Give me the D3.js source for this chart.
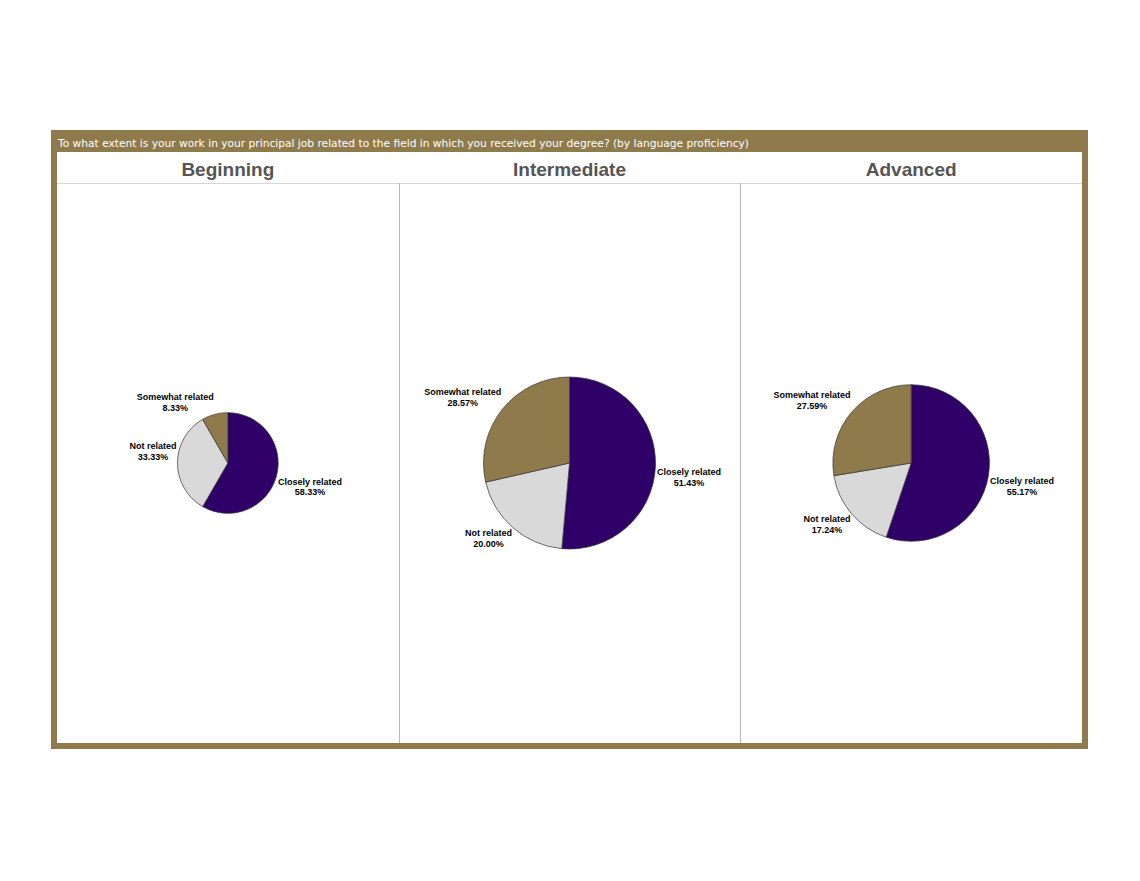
<!DOCTYPE html>
<html>
<head>
<meta charset="utf-8">
<script src="https://cdn.jsdelivr.net/npm/d3@7"></script>
<style>
  body { margin: 0; background: #fff; }
  svg { display: block; }
</style>
</head>
<body>
<svg width="1140" height="881"></svg>
<script>
// data: respondent counts by proficiency level
const levels = ["Beginning", "Intermediate", "Advanced"];
const categories = ["Closely related", "Not related", "Somewhat related"];
const closelyRelated = [7, 18, 16];
const notRelated = [4, 7, 5];
const somewhatRelated = [1, 10, 8];
const title = "To what extent is your work in your principal job related to the field in which you received your degree? (by language proficiency)";

const svg = d3.select("svg");
const frame = {left: 51, top: 130, right: 1088, bottom: 749, border: 6, titleH: 22, headerH: 31};
const inner = {left: frame.left + frame.border, right: frame.right - frame.border,
               top: frame.top + frame.titleH, bottom: frame.bottom - frame.border};
const bodyTop = inner.top + frame.headerH;

const brown = "#8e7a4b";
const color = d3.scaleOrdinal().domain(categories).range(["#2e0068", "#d9d9d9", brown]);

// frame + title bar
svg.append("rect")
  .attr("x", frame.left).attr("y", frame.top)
  .attr("width", frame.right - frame.left).attr("height", frame.bottom - frame.top)
  .attr("fill", brown);
svg.append("rect")
  .attr("x", inner.left).attr("y", inner.top)
  .attr("width", inner.right - inner.left).attr("height", inner.bottom - inner.top)
  .attr("fill", "#fff");
svg.append("text")
  .attr("x", inner.left + 1).attr("y", frame.top + 17)
  .attr("fill", "#fff")
  .attr("font-family", "DejaVu Sans, Verdana, sans-serif")
  .attr("font-size", 10.5)
  .attr("textLength", 691).attr("lengthAdjust", "spacingAndGlyphs")
  .text(title);

const col = d3.scaleBand().domain(levels).range([inner.left, inner.right]);

// grid lines
svg.append("line")
  .attr("x1", inner.left).attr("x2", inner.right)
  .attr("y1", bodyTop + 0.5).attr("y2", bodyTop + 0.5)
  .attr("stroke", "#d6d6d6");
svg.selectAll(".divider")
  .data(levels.slice(1))
  .join("line")
    .attr("class", "divider")
    .attr("x1", d => Math.round(col(d)) + 0.5).attr("x2", d => Math.round(col(d)) + 0.5)
    .attr("y1", bodyTop).attr("y2", inner.bottom)
    .attr("stroke", "#b8b8b8");

// headers
svg.selectAll(".header")
  .data(levels)
  .join("text")
    .attr("class", "header")
    .attr("x", d => col(d) + col.bandwidth() / 2)
    .attr("y", inner.top + 24)
    .attr("text-anchor", "middle")
    .attr("font-family", "Liberation Sans, Arial, sans-serif")
    .attr("font-weight", "bold")
    .attr("font-size", 19)
    .attr("fill", "#555")
    .text(d => d);

const totals = levels.map((l, i) => closelyRelated[i] + notRelated[i] + somewhatRelated[i]);
const radius = d3.scaleSqrt().domain([0, d3.max(totals)]).range([0, 86]);
const pie = d3.pie().sort(null).value(d => d.value);
const cy = (bodyTop + inner.bottom) / 2;

levels.forEach((level, i) => {
  const data = [
    {cat: categories[0], value: closelyRelated[i]},
    {cat: categories[1], value: notRelated[i]},
    {cat: categories[2], value: somewhatRelated[i]}
  ];
  const r = radius(totals[i]);
  const arc = d3.arc().innerRadius(0).outerRadius(r);
  const g = svg.append("g")
    .attr("transform", `translate(${col(level) + col.bandwidth() / 2},${cy})`);

  const arcs = pie(data);
  g.selectAll("path")
    .data(arcs)
    .join("path")
      .attr("d", arc)
      .attr("fill", d => color(d.data.cat))
      .attr("stroke", "#333")
      .attr("stroke-width", 0.7);

  const labels = g.selectAll(".lbl")
    .data(arcs)
    .join("text")
      .attr("class", "lbl")
      .attr("text-anchor", "middle")
      .attr("font-family", "Liberation Sans, Arial, sans-serif")
      .attr("font-weight", "bold")
      .attr("font-size", 9)
      .attr("fill", "#000");

  labels.each(function(d) {
    const t = d3.select(this);
    const a = (d.startAngle + d.endAngle) / 2;
    const ex = r * Math.sin(a), ey = -r * Math.cos(a);
    const pct = (d.data.value / totals[i] * 100).toFixed(2) + "%";
    const l1 = t.append("tspan").text(d.data.cat);
    const l2 = t.append("tspan").text(pct);
    const w = Math.max(l1.node().getComputedTextLength(), l2.node().getComputedTextLength());
    const x = Math.sin(a) >= 0 ? ex + 1.5 + w / 2 : ex - 1 - w / 2;
    const lower = Math.cos(a) < -0.01;
    const y1 = lower ? ey + 8.5 : ey - 14;
    l1.attr("x", x).attr("y", y1);
    l2.attr("x", x).attr("y", y1 + 10.5);
  });
});
</script>
</body>
</html>
